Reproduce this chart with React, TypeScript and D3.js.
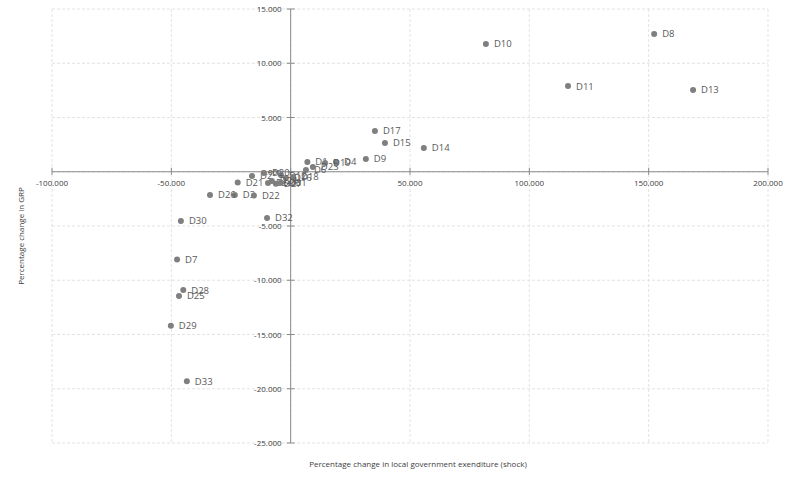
import React from "react";
import * as d3 from "d3";

const labels = ["D1","D2","D3","D4","D5","D6","D7","D8","D9","D10","D11","D12","D13","D14","D15","D16","D17","D18","D19","D20","D21","D22","D23","D24","D25","D26","D27","D28","D29","D30","D31","D32","D33"];
const xValues = [7.0,-16.2,-23.4,19.0,-9.5,6.4,-47.6,152.3,31.5,81.8,116.2,-4.1,168.6,55.8,39.5,-2.0,35.3,1.0,14.4,-11.2,-22.2,-15.4,9.3,-7.9,-46.8,-33.8,-6.2,-45.0,-50.2,-46.0,-4.1,-9.9,-43.5];
const yValues = [0.9,-0.39,-2.14,0.9,-1.03,0.17,-8.09,12.7,1.18,11.78,7.9,-0.3,7.54,2.19,2.65,-0.57,3.76,-0.48,0.81,-0.11,-1.0,-2.2,0.44,-0.85,-11.45,-2.14,-1.1,-10.9,-14.2,-4.53,-1.0,-4.26,-19.3];
const xTicks = [-100,-50,0,50,100,150,200];
const yTicks = [15,10,5,0,-5,-10,-15,-20,-25];

const font = "'Open Sans', 'Liberation Sans', sans-serif";

export default function App() {
  const W = 788, H = 477;
  const x = d3.scaleLinear().domain([-100, 200]).range([52, 768]);
  const y = d3.scaleLinear().domain([-25, 15]).range([443, 9]);
  const x0 = x(0), y0 = y(0);
  const fmt = (v: number) => v.toFixed(3);
  return (
    <svg width={W} height={H} style={{ position: "absolute", left: 0, top: 0, background: "#fff" }}>
      {/* grid */}
      {xTicks.map((t) => (
        <line key={"gx" + t} x1={x(t)} x2={x(t)} y1={y(15)} y2={y(-25)} stroke="#dcdcdc" strokeWidth={0.8} strokeDasharray="3,2" />
      ))}
      {yTicks.map((t) => (
        <line key={"gy" + t} x1={x(-100)} x2={x(200)} y1={y(t)} y2={y(t)} stroke="#dcdcdc" strokeWidth={0.8} strokeDasharray="3,2" />
      ))}
      {/* axes */}
      <line x1={x(-100)} x2={x(200)} y1={y0} y2={y0} stroke="#8a8a8a" strokeWidth={1} />
      <line x1={x0} x2={x0} y1={y(15)} y2={y(-25)} stroke="#8a8a8a" strokeWidth={1} />
      {xTicks.map((t) => (
        <g key={"xt" + t}>
          <line x1={x(t)} x2={x(t)} y1={y0 - 4} y2={y0 + 3} stroke="#8a8a8a" />
          <text x={x(t)} y={y0 + 14} textAnchor="middle" fontFamily={font} fontSize={8} fill="#404040">{fmt(t)}</text>
        </g>
      ))}
      {yTicks.map((t) => (
        <g key={"yt" + t}>
          <line x1={x0 - 4} x2={x0 + 4} y1={y(t)} y2={y(t)} stroke="#8a8a8a" />
          <text x={x0 - 9} y={y(t) + 3} textAnchor="end" fontFamily={font} fontSize={8} fill="#404040">{fmt(t)}</text>
        </g>
      ))}
      {/* points */}
      {labels.map((l, i) => (
        <g key={l}>
          <circle cx={x(xValues[i])} cy={y(yValues[i])} r={3} fill="#7f7f7f" />
          <text x={x(xValues[i]) + 8} y={y(yValues[i]) + 3.5} fontFamily={font} fontSize={9.5} fill="#595959">{l}</text>
        </g>
      ))}
      {/* axis titles */}
      <text x={418} y={467} textAnchor="middle" fontFamily={font} fontSize={8} fill="#404040">Percentage change in local government exenditure (shock)</text>
      <text transform={`translate(24,236) rotate(-90)`} textAnchor="middle" fontFamily={font} fontSize={8} fill="#404040">Percentage change in GRP</text>
    </svg>
  );
}
